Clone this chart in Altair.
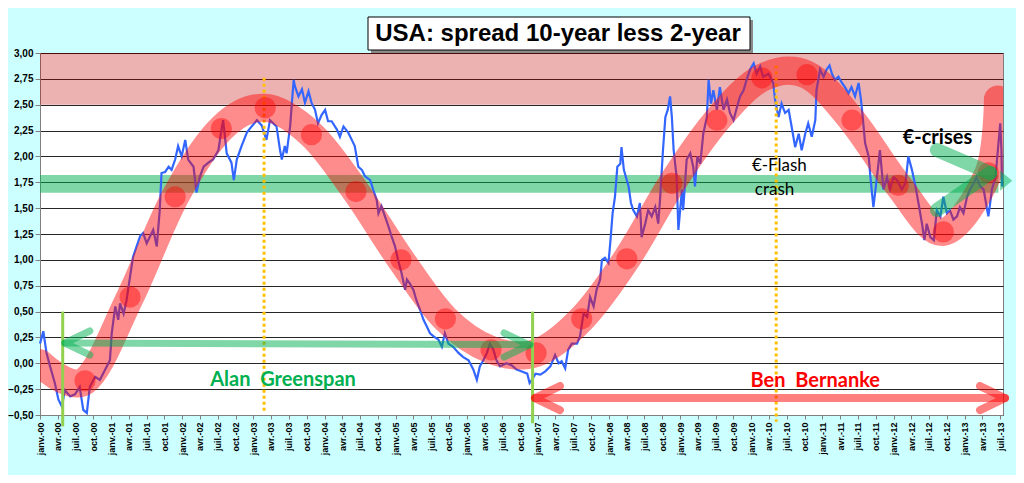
import numpy as np
import pandas as pd
import altair as alt

# USA 10y - 2y spread: months after janv.-00, value in %
spread_month = [
    0, 0.56, 1.1, 1.7, 2.5, 3.1, 3.7, 4.2, 5.1, 5.9, 6.7, 7.3, 7.9, 8.4, 9.3, 10.1, 11.0, 11.8, 12.1, 12.7,
    13.2, 13.5, 14.1, 14.6, 15.2, 15.7, 16.3, 16.9, 17.4, 18.0, 18.6, 19.1, 19.7, 20.2, 20.5, 21.1, 21.7, 22.2,
    22.8, 23.3, 23.9, 24.5, 25.0, 25.9, 26.4, 27.0, 27.6, 28.4, 29.2, 30.1, 30.7, 30.9, 31.5, 32.3, 32.7, 33.2,
    34.0, 34.9, 35.7, 36.6, 37.4, 38.2,
    38.8, 39.9, 40.5, 40.8, 41.3, 41.6, 42.2, 42.5, 42.8, 43.0, 43.6, 44.2, 44.7, 45.3, 45.8, 46.4, 46.9, 47.5,
    48.1, 48.6, 49.2, 50.1, 50.6, 51.2, 52.0, 52.6, 53.1, 53.7, 54.3, 54.8, 55.7, 56.2, 56.8, 57.1, 57.6, 58.2,
    58.8, 59.3, 59.9, 60.4, 61.0, 61.6, 61.9, 62.4, 63.0, 63.5, 64.1, 64.7, 65.3, 65.8, 66.4, 67.2, 67.8, 68.3,
    68.9, 69.7, 70.6, 71.4, 72.3, 73.1, 73.7, 74.2, 74.8, 75.4, 75.9, 76.5, 77.0, 77.6, 78.7, 79.6, 80.4, 81.3,
    82.2, 82.6, 83.0, 83.6,
    84.4, 85.2, 86.1, 86.9, 87.5, 88.0, 88.6, 89.1, 89.7, 90.6, 91.1, 91.7, 92.3, 92.8, 93.4, 93.9, 94.5, 94.8,
    95.3, 95.9, 96.2, 96.6, 97.0, 97.4, 97.9, 98.1, 98.5, 99.0, 99.3, 99.7, 100.1, 100.7, 101.2, 101.5, 102.1,
    102.6, 103.2, 103.8, 104.3, 104.6, 105.1, 105.5, 105.9, 106.3, 106.6, 106.9, 107.4, 107.7, 108.3, 108.5,
    109.1, 109.7, 110.2, 110.5, 110.9, 111.4, 111.9, 112.5, 112.8, 113.2, 113.6, 114.2, 114.7, 115.3, 115.9,
    116.4, 117.0, 117.6, 118.1, 118.7, 119.2, 119.8, 120.4, 120.9, 121.5, 122.0, 122.9,
    123.7, 124.0, 124.6, 125.1, 125.7, 126.3, 126.8, 127.4, 128.0, 128.5, 129.1, 129.6, 130.2, 130.8, 131.0,
    131.6, 132.2, 132.7, 133.2, 133.6, 134.1, 134.7, 135.3, 135.8, 136.4, 136.9, 137.5, 138.1, 138.5, 138.8,
    139.2, 139.8, 140.1, 140.6, 141.2, 141.7, 142.3, 142.9, 143.4, 144.0, 144.6, 145.4, 146.0, 146.5, 147.1,
    147.7, 148.2, 148.8, 149.2, 149.6, 150.2, 150.8, 151.3, 151.9, 152.4, 153.0, 153.5, 154.1, 154.7, 155.2,
    155.8, 156.4, 156.9, 157.5, 158.0, 158.6, 159.2, 159.8, 160.0, 160.6, 161.2, 161.7, 162.0, 162.2, 162.3,
]
spread_value = [
    0.19, 0.31, 0.10, -0.03, -0.19, -0.35, -0.42, -0.26, -0.32, -0.30, -0.23, -0.45, -0.48, -0.23, -0.13, -0.16,
    -0.06, 0.03, 0.29, 0.55, 0.42, 0.58, 0.48, 0.61, 0.84, 1.03, 1.13, 1.23, 1.26, 1.16, 1.23, 1.29, 1.13, 1.48,
    1.84, 1.85, 1.90, 1.87, 1.97, 2.10, 2.00, 2.16, 1.97, 1.90, 1.65, 1.81, 1.90, 1.94, 1.97, 2.06, 2.29, 2.35,
    2.03, 1.94, 1.77, 1.97, 2.10, 2.23, 2.29, 2.35, 2.30, 2.16,
    2.35, 2.29, 2.06, 1.97, 2.10, 2.03, 2.29, 2.52, 2.74, 2.68, 2.58, 2.65, 2.52, 2.63, 2.52, 2.45, 2.32, 2.40,
    2.45, 2.34, 2.34, 2.26, 2.19, 2.29, 2.23, 2.16, 2.10, 1.90, 1.87, 1.81, 1.77, 1.68, 1.58, 1.45, 1.52, 1.42,
    1.32, 1.23, 1.13, 1.00, 0.87, 0.71, 0.81, 0.77, 0.71, 0.61, 0.52, 0.42, 0.35, 0.29, 0.26, 0.23, 0.16, 0.29,
    0.19, 0.16, 0.10, 0.06, 0.03, -0.06, -0.16, -0.03, 0.03, 0.10, 0.19, 0.13, 0.03, -0.03, 0.00, -0.02, -0.06,
    -0.08, -0.10, -0.19, -0.16, -0.10,
    -0.11, -0.08, -0.03, 0.08, 0.00, 0.02, -0.05, 0.13, 0.19, 0.19, 0.26, 0.48, 0.45, 0.64, 0.55, 0.71, 0.81,
    1.00, 1.02, 0.97, 1.16, 1.45, 1.61, 1.90, 1.93, 2.09, 1.87, 1.77, 1.71, 1.55, 1.48, 1.42, 1.55, 1.22, 1.35,
    1.48, 1.42, 1.51, 1.35, 1.58, 2.06, 2.38, 2.45, 2.58, 2.38, 2.06, 1.80, 1.29, 1.68, 1.48, 1.97, 2.03, 1.90,
    1.71, 2.00, 1.93, 2.22, 2.38, 2.74, 2.51, 2.64, 2.45, 2.67, 2.45, 2.55, 2.42, 2.35, 2.48, 2.58, 2.64, 2.74,
    2.84, 2.90, 2.80, 2.87, 2.77, 2.80,
    2.71, 2.55, 2.38, 2.51, 2.42, 2.45, 2.29, 2.09, 2.22, 2.06, 2.22, 2.32, 2.19, 2.35, 2.64, 2.84, 2.77, 2.84,
    2.88, 2.80, 2.74, 2.77, 2.71, 2.67, 2.61, 2.67, 2.58, 2.71, 2.55, 2.38, 2.13, 2.00, 1.80, 1.51, 1.80, 2.06,
    1.68, 1.80, 1.68, 1.80, 1.77, 1.68, 1.74, 2.00, 1.87, 1.71, 1.55, 1.35, 1.19, 1.35, 1.22, 1.19, 1.48, 1.42,
    1.61, 1.45, 1.48, 1.39, 1.42, 1.51, 1.45, 1.61, 1.68, 1.74, 1.80, 1.71, 1.68, 1.48, 1.42, 1.68, 1.80, 2.13,
    2.32, 2.06, 1.71,
]

# red wave and its dots
dot_month = [7.6, 15.2, 22.8, 30.6, 38.0, 45.8, 53.3, 60.9, 68.4, 76.1, 83.7, 91.4, 99.0, 106.6, 114.2,
             121.8, 129.4, 137.0, 144.8, 152.4, 160.0]
dot_value = [-0.17, 0.64, 1.61, 2.27, 2.47, 2.21, 1.66, 1.00, 0.43, 0.13, 0.10, 0.43, 1.01, 1.74, 2.35,
             2.76, 2.79, 2.35, 1.72, 1.27, 1.84]
wave_month = [0.0] + dot_month + [161.6]
wave_value = [0.0] + dot_value + [2.55]

# zones and markers
top_zone = [2.50, 3.00]
green_zone = [1.65, 1.82]
orange_month = [37.8, 124.2]
orange_top = [2.76, 2.88]
orange_bottom = [-0.47, -0.565]
chair_month = [3.83, 83.1]
chair_top = [0.50, 0.50]
chair_bottom = [-0.61, -0.58]

T0 = pd.Timestamp("2000-01-01")


def when(m):
    return T0 + pd.to_timedelta(pd.Series(m, dtype=float) * 30.4375, unit="D")


x_scale = alt.Scale(domain=[alt.DateTime(year=2000, month=1, date=1),
                            alt.DateTime(year=2013, month=7, date=16)])
y_scale = alt.Scale(domain=[-0.5, 3.0], nice=False, zero=False)

quarters = [alt.DateTime(year=2000 + q // 4, month=(q % 4) * 3 + 1, date=1) for q in range(55)]
yticks = [-0.5 + 0.25 * i for i in range(15)]

x_axis = alt.Axis(values=quarters, title=None, grid=False, labelAngle=270, labelOverlap=False, labelFlush=False,
                  labelExpr="['janv.','avr.','juil.','oct.'][floor(month(datum.value)/3)] + '-' + timeFormat(datum.value, '%y')",
                  labelFont="Liberation Sans", labelFontSize=9, labelFontWeight="bold", labelColor="black",
                  labelPadding=3, tickSize=4, tickColor="#808080", domainColor="#808080")
y_axis = alt.Axis(values=yticks, title=None, labelFlush=False,
                  labelExpr="replace(format(datum.value, '.2f'), '.', ',')",
                  labelFont="Liberation Sans", labelFontSize=10, labelFontWeight="bold", labelColor="black",
                  labelPadding=2, tickSize=5, tickColor="#808080", domainColor="#808080",
                  grid=True, gridColor="black", gridOpacity=0.85, gridWidth=1)


def X(f):
    return alt.X(f + ":T", scale=x_scale, axis=x_axis)


def Y(f):
    return alt.Y(f + ":Q", scale=y_scale, axis=y_axis)


spread = pd.DataFrame({"d": when(spread_month), "v": spread_value})
wave = pd.DataFrame({"d": when(wave_month), "v": wave_value})
dots = pd.DataFrame({"d": when(dot_month), "v": dot_value})

zones = pd.DataFrame({"d1": when([0, 0]), "d2": when([162.5, 161.7]),
                      "y1": [top_zone[0], green_zone[0]], "y2": [top_zone[1], green_zone[1]],
                      "c": ["#c00000", "#00b050"], "o": [0.3, 0.5]})
zone = alt.Chart(zones).mark_rect().encode(
    x=X("d1"), x2="d2", y=Y("y1"), y2="y2",
    color=alt.Color("c:N", scale=None), opacity=alt.Opacity("o:Q", scale=None))

line = alt.Chart(spread).mark_line(color="#3366ff", strokeWidth=2.2).encode(x=X("d"), y=Y("v"))

oranges = pd.DataFrame({"d": when(orange_month), "y1": orange_top, "y2": orange_bottom})
orange = alt.Chart(oranges).mark_rule(color="#ffc000", strokeWidth=3, strokeDash=[3, 3]).encode(
    x=X("d"), y=Y("y1"), y2="y2")

wave_line = alt.Chart(wave).mark_line(color="red", opacity=0.45, strokeWidth=28, strokeCap="round",
                                      interpolate="cardinal", clip=True).encode(x=X("d"), y=Y("v"))
wave_dots = alt.Chart(dots).mark_circle(color="red", opacity=0.42, size=450).encode(x=X("d"), y=Y("v"))

chairs = pd.DataFrame({"d": when(chair_month), "y1": chair_top, "y2": chair_bottom})
chair = alt.Chart(chairs).mark_rule(color="#92d050", strokeWidth=3).encode(x=X("d"), y=Y("y1"), y2="y2")

# arrow shafts: greenspan, bernanke, euro crisis chevron
shafts = pd.DataFrame({
    "d1": when([4.2, 83.5, 151.3, 151.3]), "d2": when([82.7, 162.8, 160.3, 160.3]),
    "y1": [0.195, -0.336, 2.062, 1.482], "y2": [0.18, -0.336, 1.84, 1.84],
    "c": ["#00b050", "red", "#00b050", "#00b050"], "w": [7, 8, 14, 14]})
shaft = alt.Chart(shafts).mark_rule(opacity=0.5, strokeCap="round").encode(
    x=X("d1"), x2="d2", y=Y("y1"), y2="y2",
    color=alt.Color("c:N", scale=None), strokeWidth=alt.StrokeWidth("w:Q", scale=None))

left_head = "M 1 -0.96 L -1 0 L 1 0.96"
right_head = "M -1 -0.96 L 1 0 L -1 0.96"
heads = pd.DataFrame({"d": when([6.3, 80.4, 85.6, 160.7]), "v": [0.196, 0.177, -0.336, -0.336],
                      "s": ["l", "r", "l", "r"], "c": ["#00b050", "#00b050", "red", "red"], "w": [7, 7, 8, 8]})
head = alt.Chart(heads).mark_point(opacity=0.5, size=625, strokeCap="round", strokeJoin="round").encode(
    x=X("d"), y=Y("v"),
    shape=alt.Shape("s:N", scale=alt.Scale(domain=["l", "r"], range=[left_head, right_head]), legend=None),
    stroke=alt.Stroke("c:N", scale=None), strokeWidth=alt.StrokeWidth("w:Q", scale=None))

tip = alt.Chart(pd.DataFrame({"d": when([163.0]), "v": [1.764]})).mark_point(
    shape="M -0.6 -1 L 0.6 0 L -0.6 1 Z", filled=True, color="#00b050", opacity=0.5, size=400).encode(
    x=X("d"), y=Y("v"))

labels = pd.DataFrame({
    "d": when([41.0, 130.8, 151.4]), "v": [-0.161, -0.171, 2.175],
    "t": ["Alan\u00a0 Greenspan", "Ben\u00a0 Bernanke", "\u20ac-crises"],
    "c": ["#00b050", "red", "black"]})
label = alt.Chart(labels).mark_text(font="Lato", fontSize=20, fontWeight="bold").encode(
    x=X("d"), y=Y("v"), text="t:N", color=alt.Color("c:N", scale=None))

flash = pd.DataFrame({"d": when([120.1, 120.6]), "v": [1.907, 1.675], "t": ["\u20ac-Flash", "crash"]})
flash_text = alt.Chart(flash).mark_text(font="Lato", fontSize=17, align="left", color="black").encode(
    x=X("d"), y=Y("v"), text="t:N")

title = "USA: spread 10-year less 2-year"
tdf = pd.DataFrame({"t": [title]})
shadow = alt.Chart(tdf).mark_rect(fill="#8a8a8a").encode(
    x=alt.value(331), x2=alt.value(713), y=alt.value(-33), y2=alt.value(0))
box = alt.Chart(tdf).mark_rect(fill="white", stroke="black", strokeWidth=1).encode(
    x=alt.value(328), x2=alt.value(710), y=alt.value(-36), y2=alt.value(-3))
title_text = alt.Chart(tdf).mark_text(font="Liberation Sans", fontSize=24, fontWeight="bold", color="black").encode(
    x=alt.value(518), y=alt.value(-19), text="t:N")

chart = alt.layer(
    zone, line, orange, wave_line, wave_dots, chair, shaft, head, tip, label, flash_text,
    shadow, box, title_text
).properties(
    width=963, height=362, autosize="none",
    padding={"left": 32, "top": 45, "right": 13, "bottom": 60}
).configure(background="#ccffff").configure_view(fill="white", stroke="#808080", strokeWidth=1)

chart.save("out.html", embed_options={"renderer": "svg", "actions": False})
